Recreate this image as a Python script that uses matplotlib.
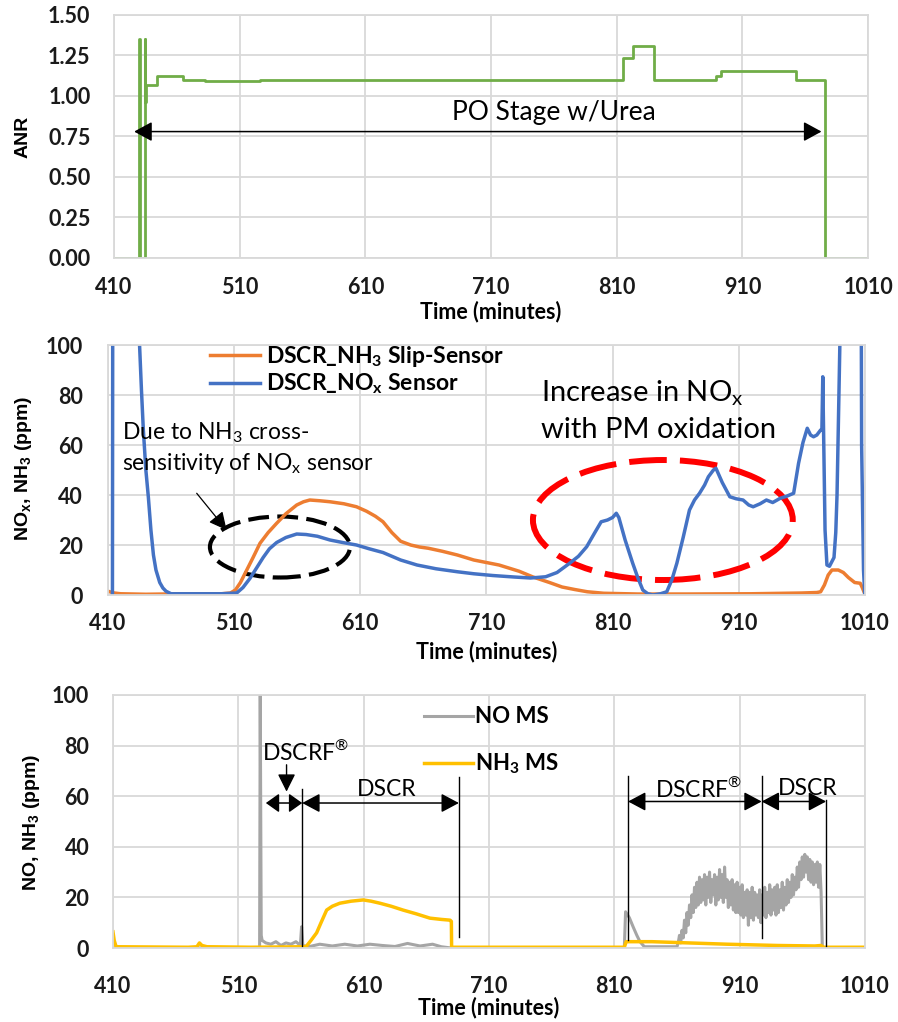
import matplotlib
matplotlib.use("Agg")
import matplotlib.pyplot as plt
from matplotlib.patches import Ellipse

plt.rcParams['font.family'] = ['Lato', 'DejaVu Sans']

# ---------------- data ----------------
# ANR set-point (step changes)
anr_time = [410, 430, 430.4, 434.5, 434.8, 435.5, 444, 465, 482, 526, 815, 823, 840,
            889, 893, 953, 976, 1010]
anr_value = [0, 1.35, 0, 1.35, 0.96, 1.07, 1.12, 1.10, 1.09, 1.10, 1.235, 1.31, 1.10,
             1.12, 1.155, 1.10, 0, 0]

# DSCR outlet sensors (ppm)
nox_time = [413.5, 413.8, 434.5, 435, 436.5, 438, 440, 442, 444, 446, 448, 451, 453.5,
            456, 460, 480, 500, 512, 517,
            522.6, 528, 533, 538, 543.7, 551, 559.6, 567, 576, 586, 596, 607, 617, 628,
            642, 655, 670, 687, 700, 715, 732, 745, 757, 766, 776, 783, 789.5, 796, 801,
            806, 810, 813, 815, 820, 826, 830, 834, 838, 842, 848, 853, 857, 861, 866,
            871, 875, 879, 883, 886, 890, 892, 897, 903, 908, 913.5, 918, 921.5, 927,
            932, 937, 943, 948, 953.6, 955, 957.5, 961, 964.4, 967, 969.4, 972, 975,
            976, 976.7, 977.5, 978.5, 980, 982, 985.6, 987, 988, 989.5, 990.6, 991,
            1007, 1007.5, 1009, 1010]
nox_ppm = [0.5, 150, 150, 100, 82, 66, 50, 39, 26, 16, 10, 5, 2.8,
           1.5, 0.5, 0.5, 0.5, 0.8, 3,
           6.7, 11, 15, 18.5, 21, 23, 24.4, 24.2, 23.5, 22, 21, 20, 18.5, 17,
           14, 12, 10.5, 9.3, 8.5, 7.8, 7.2, 6.8, 7.3, 9, 12.7, 15.5, 19.3, 25, 29.3,
           30, 31, 32.7, 31, 22, 12.7, 7, 2, 0.5, 0, 0.5, 1.3, 6, 12.7, 23,
           34, 38, 40.7, 44, 47.3, 50, 50.7, 45, 39.3, 38.5, 38, 36, 35.3, 36.5,
           38, 37, 38.7, 39.5, 40.7, 45, 52.7, 61, 66.7, 64, 63.3, 64, 66,
           66, 87.3, 60, 26, 12, 11.5, 15, 25, 40, 80, 110, 150,
           150, 60, 10, 0]

nh3_time = [410, 412, 415, 420, 440, 470, 500, 507, 511, 515, 520, 525, 530.5, 537,
            543.7, 551, 559.6, 565, 570, 578, 586, 597, 607, 615, 622, 628, 635, 642,
            650, 657, 664, 675, 687, 700, 720, 736, 747, 760, 770, 780, 790, 803, 830,
            870, 920, 960, 972, 975, 978, 981, 984, 989, 993, 997, 1002, 1006.4, 1008,
            1010]
nh3_ppm = [1.5, 1.2, 0.8, 0.5, 0.3, 0.5, 0.5, 0.8, 2, 5, 10, 15, 20.7, 25,
           28.7, 32.5, 36, 37.3, 38, 37.7, 37.3, 36.5, 35.3, 33.5, 31.5, 29.3, 25, 21.5,
           20, 19.2, 18.7, 17.5, 16, 14, 12, 9.5, 7.2, 5, 3.2, 2.2, 1.3, 0.7, 0.4,
           0.4, 0.5, 0.8, 1.0, 1.3, 4, 8, 10, 10, 9, 7, 5, 4.7, 3,
           0.5]

# Mass-spectrometer signals (ppm)
ms_nh3_time = [410, 411, 412.5, 470, 477, 479, 481, 485, 520, 564, 568, 572.5, 576,
               580.5, 585, 591, 600, 609.7, 616, 623, 632, 641.4, 652, 662.9, 672, 679,
               680, 680.2, 818, 819.5, 840, 870, 900, 940, 970, 975, 977, 1010]
ms_nh3_ppm = [6.4, 3, 0.5, 0.3, 0.5, 2, 1, 0.5, 0.3, 0.5, 3, 6, 10,
              15, 16.5, 17.7, 18.5, 19, 18.5, 17.7, 16.5, 15, 13.5, 11.8, 11.3, 11,
              10.5, 0.3, 0.3, 2.5, 2.5, 2, 1.5, 1, 0.8, 1, 0.3, 0.3]

# NO MS: early part at irregular times, then one-minute samples 860-976
ms_no_time = [410, 527, 527.5, 528.3, 529, 532, 536, 540, 544, 548, 552, 556, 559.5,
              560.5, 561.5, 566, 575, 585, 595, 605, 615, 625, 635, 645, 655, 665, 672,
              680, 818, 819, 822, 825, 828, 830.5, 834, 858] + list(range(860, 977)) + [1010]
ms_no_ppm = [0, 0, 100, 5, 3, 2, 1.5, 2.5, 1, 2, 1.5, 2.5, 1,
             8.4, 1, 0.5, 1.5, 0.8, 1.5, 0.8, 1.5, 1, 0.6, 1.8, 0.8, 1.5, 0.5,
             0, 0, 14.3, 12, 8.4, 5, 2.5, 0.5, 0.5,
             # 860 - 899
             0.5, 2, 5, 2, 7, 4, 11, 6, 14, 9,
             17, 12, 21, 14, 24, 16, 26, 17, 28, 18,
             27, 19, 29, 17, 28, 20, 30, 18, 27, 21,
             29, 17, 28, 19, 31, 20, 29, 18, 32, 20,
             # 900 - 939
             27, 16, 26, 17, 27, 15, 25, 14, 26, 14,
             24, 13, 25, 12, 22, 13, 23, 9, 22, 12,
             24, 11, 22, 13, 21, 12, 23, 10, 21, 13,
             24, 12, 22, 14, 25, 13, 23, 15, 24, 13,
             # 940 - 976
             25, 14, 23, 16, 26, 15, 24, 17, 27, 18,
             26, 20, 29, 21, 28, 23, 32, 24, 34, 27,
             36, 28, 37, 30, 36, 27, 35, 26, 34, 25,
             33, 26, 34, 24, 33, 22, 0,
             0]

x_ticks = [410, 510, 610, 710, 810, 910, 1010]

# ---------------- styling ----------------
GRID = '#d9d9d9'
GREEN = '#70AD47'
ORANGE = '#ED7D31'
BLUE = '#4472C4'
GRAY = '#A5A5A5'
YELLOW = '#FFC000'
TICK_FONT = dict(family=['Lato', 'DejaVu Sans'], weight='bold', size=15.5)
LABEL_FONT = dict(family=['Liberation Sans', 'DejaVu Sans'], weight='bold', size=14)
REG = r'$^\mathregular{®}$'


def style_axes(ax, yticks, yfmt, xpad, ypad):
    ax.set_xlim(410, 1010)
    ax.set_xticks(x_ticks)
    ax.set_yticks(yticks)
    ax.set_yticklabels([yfmt.format(v) for v in yticks], fontdict=TICK_FONT)
    ax.set_xticklabels([str(v) for v in x_ticks], fontdict=TICK_FONT)
    ax.grid(True, color=GRID, lw=1.3)
    ax.set_axisbelow(True)
    for s in ax.spines.values():
        s.set_color(GRID)
        s.set_linewidth(1.3)
    ax.tick_params(axis='both', length=0, colors='#1a1a1a')
    ax.tick_params(axis='x', pad=xpad)
    ax.tick_params(axis='y', pad=ypad)


def add_xlabel(ax, y):
    ax.set_xlabel('Time (minutes)', fontdict=dict(family=['Lato', 'DejaVu Sans'],
                                                  weight='bold', size=15.5))
    ax.xaxis.set_label_coords(0.5, y)
    ax.xaxis.label.set_va('center')


def add_ylabel(ax, text, x, y):
    ax.set_ylabel(text, fontdict=LABEL_FONT)
    ax.yaxis.set_label_coords(x, y)
    ax.yaxis.label.set_va('center')


def double_arrow(ax, x0, x1, y, hl=0.5, hw=0.3, ms=20):
    ax.annotate('', xy=(x1, y), xytext=(x0, y),
                arrowprops=dict(arrowstyle=f'<|-|>,head_length={hl},head_width={hw}',
                                color='black', lw=1.1, mutation_scale=ms,
                                shrinkA=0, shrinkB=0))


fig = plt.figure(figsize=(8.98, 10.22), dpi=100)

# ---------------- ANR ----------------
ax1 = fig.add_axes([0.127, 0.7476, 0.8396, 0.2378])
ax1.plot(anr_time, anr_value, drawstyle='steps-post', color=GREEN, lw=2.0)
ax1.set_ylim(0, 1.5)
style_axes(ax1, [0, 0.25, 0.5, 0.75, 1.0, 1.25, 1.5], '{:.2f}', 14, 17)
add_xlabel(ax1, -0.22)
add_ylabel(ax1, 'ANR', -0.121, 0.5)
double_arrow(ax1, 426, 973, 0.78, hl=0.55, hw=0.3, ms=20)
ax1.text(760, 0.895, 'PO Stage w/Urea', ha='center', va='center', fontsize=19)

# ---------------- DSCR sensors ----------------
ax2 = fig.add_axes([0.1203, 0.4178, 0.8427, 0.2446])
ax2.plot(nh3_time, nh3_ppm, color=ORANGE, lw=2.5, label=r'DSCR_NH$_\mathregular{3}$ Slip-Sensor')
ax2.plot(nox_time, nox_ppm, color=BLUE, lw=2.5, label=r'DSCR_NO$_\mathregular{x}$ Sensor')
ax2.set_ylim(0, 100)
style_axes(ax2, [0, 20, 40, 60, 80, 100], '{:d}', 13, 18)
add_xlabel(ax2, -0.228)
add_ylabel(ax2, r'NO$_\mathregular{x}$, NH$_\mathregular{3}$ (ppm)', -0.112, 0.508)
ax2.legend(loc='upper left', bbox_to_anchor=(0.1347, 1.005), frameon=False,
           borderpad=0, borderaxespad=0, handlelength=2.2, handletextpad=0.25,
           labelspacing=0.12, prop=dict(family=['Lato', 'DejaVu Sans'], weight='bold', size=16.5))
ax2.text(421, 64.8, r'Due to NH$_\mathregular{3}$ cross-', ha='left', va='center', fontsize=16.5)
ax2.text(421, 52.8, r'sensitivity of NO$_\mathregular{x}$ sensor', ha='left', va='center', fontsize=16.5)
ax2.annotate('', xy=(504, 26), xytext=(480.3, 40.7),
             arrowprops=dict(arrowstyle='-|>,head_length=0.6,head_width=0.3', color='black',
                             lw=0.9, mutation_scale=18, shrinkA=0, shrinkB=0))
ax2.add_patch(Ellipse((546.3, 19.2), 111, 24.4, fill=False, ec='black', lw=3,
                      ls=(0, (5, 2))))
ax2.text(753, 80.8, r'Increase in NO$_\mathregular{x}$', ha='left', va='center', fontsize=21)
ax2.text(753, 66, 'with PM oxidation', ha='left', va='center', fontsize=21)
ax2.add_patch(Ellipse((849.9, 30), 206, 48, fill=False, ec='#FF0000', lw=4.3,
                      ls=(0, (6.3, 2.2))))

# ---------------- Mass spectrometer ----------------
ax3 = fig.add_axes([0.1258, 0.0724, 0.8374, 0.2476])
ax3.plot(ms_no_time, ms_no_ppm, color=GRAY, lw=2.2, label='NO MS')
ax3.plot(ms_nh3_time, ms_nh3_ppm, color=YELLOW, lw=2.5, label=r'NH$_\mathregular{3}$ MS')
ax3.set_ylim(0, 100)
style_axes(ax3, [0, 20, 40, 60, 80, 100], '{:d}', 20, 17)
add_xlabel(ax3, -0.237)
add_ylabel(ax3, r'NO, NH$_\mathregular{3}$ (ppm)', -0.109, 0.498)
ax3.legend(loc='upper left', bbox_to_anchor=(0.4136, 0.955), frameon=False,
           borderpad=0, borderaxespad=0, handlelength=2.2, handletextpad=0.1,
           labelspacing=1.1, prop=dict(family=['Lato', 'DejaVu Sans'], weight='bold', size=16))

for x, y0, y1 in [(561, 0.5, 63), (686, 4.5, 67.7), (821, 3.2, 67.9),
                  (927.6, 4, 67.9), (979, 0.5, 58.5)]:
    ax3.plot([x, x], [y0, y1], color='black', lw=1.0)
double_arrow(ax3, 532, 561, 57.3, hl=0.45, hw=0.32, ms=18)
double_arrow(ax3, 561, 686, 57.3, hl=0.6, hw=0.32, ms=18)
double_arrow(ax3, 821, 927.6, 57.9, hl=0.6, hw=0.32, ms=18)
double_arrow(ax3, 927.6, 979, 57.9, hl=0.6, hw=0.32, ms=18)
ax3.annotate('', xy=(548.5, 61.8), xytext=(548.5, 72.4),
             arrowprops=dict(arrowstyle='-|>,head_length=0.6,head_width=0.3', color='black',
                             lw=1.0, mutation_scale=18, shrinkA=0, shrinkB=0))
ax3.text(564, 77.6, 'DSCRF' + REG, ha='center', va='center', fontsize=16.5)
ax3.text(628, 62.8, 'DSCR', ha='center', va='center', fontsize=16.5)
ax3.text(877.5, 63, 'DSCRF' + REG, ha='center', va='center', fontsize=16.5)
ax3.text(964, 63, 'DSCR', ha='center', va='center', fontsize=16.5)

fig.savefig('out.png', dpi=100)
